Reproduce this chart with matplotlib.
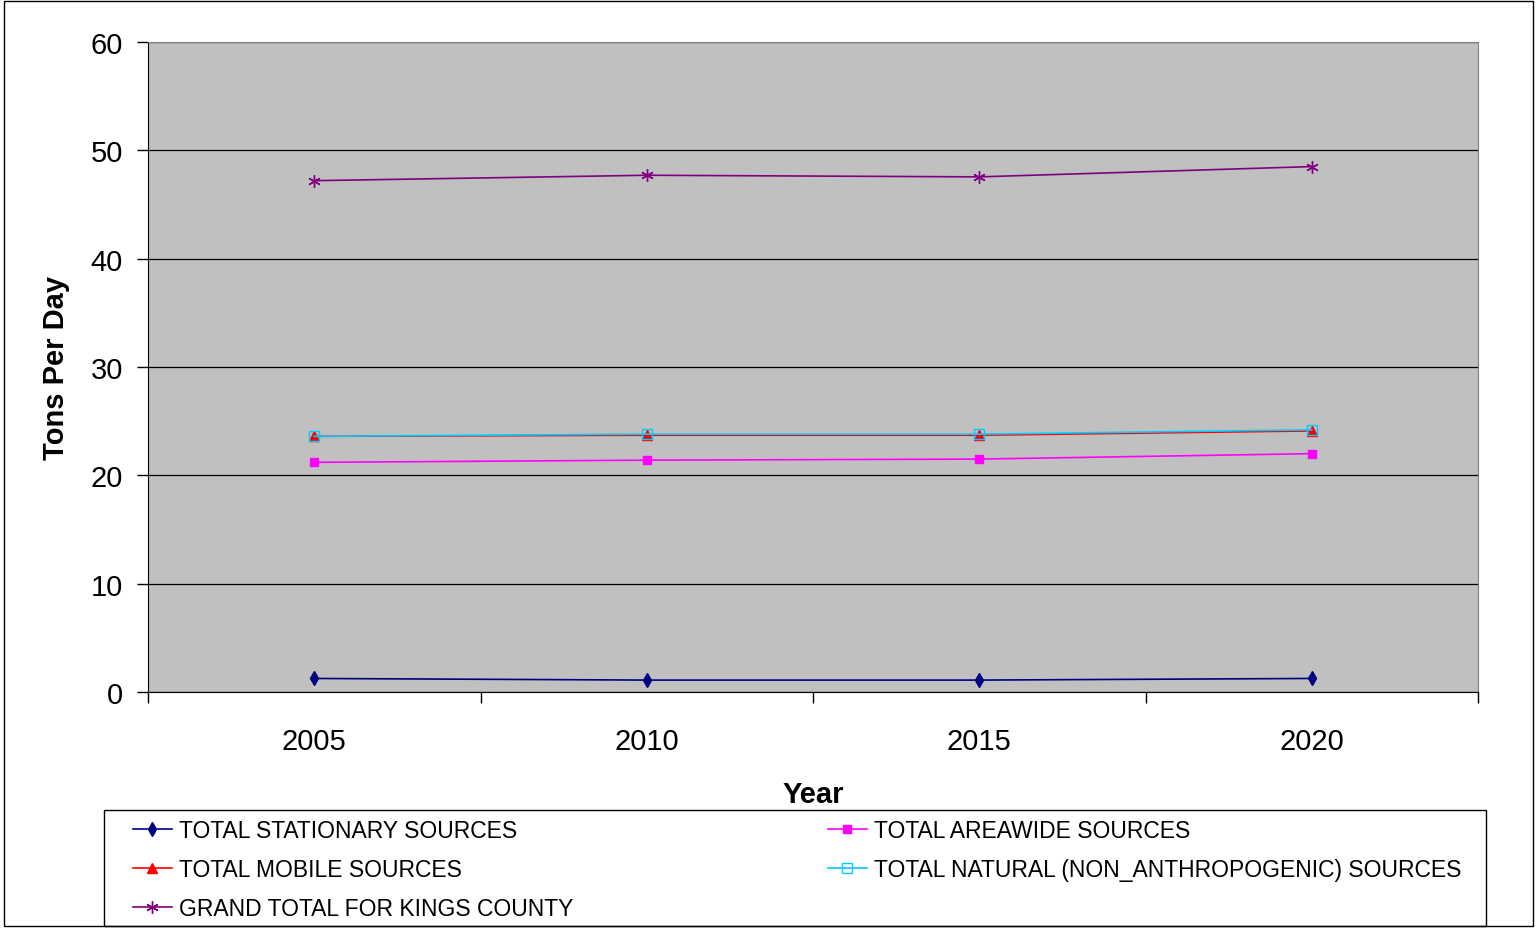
import matplotlib.pyplot as plt
from matplotlib.patches import Rectangle

plt.rcParams['font.family'] = ['Liberation Sans', 'DejaVu Sans']

years = ["2005", "2010", "2015", "2020"]
stationary = [1.25, 1.1, 1.1, 1.25]
areawide = [21.2, 21.4, 21.5, 22.0]
mobile = [23.6, 23.7, 23.7, 24.1]
natural = [23.6, 23.8, 23.8, 24.2]
grand_total = [47.2, 47.7, 47.55, 48.5]

labels = ["TOTAL STATIONARY SOURCES", "TOTAL AREAWIDE SOURCES", "TOTAL MOBILE SOURCES",
          "TOTAL NATURAL (NON_ANTHROPOGENIC) SOURCES", "GRAND TOTAL FOR KINGS COUNTY"]

W, H = 1536, 929
fig = plt.figure(figsize=(W / 100, H / 100), dpi=100)
ax = fig.add_axes([148 / W, 1 - 693 / H, (1478 - 148) / W, (693 - 43) / H])
ax.set_facecolor("#C0C0C0")

x = list(range(len(years)))
lw = 1.2
l_stat, = ax.plot(x, stationary, color="#000080", lw=lw, marker="d", ms=7,
                  mfc="#000080", mec="#000080", zorder=3)
l_area, = ax.plot(x, areawide, color="#FF00FF", lw=lw, marker="s", ms=6,
                  mfc="#FF00FF", mec="#FF00FF", zorder=3)
l_mob, = ax.plot(x, mobile, color="#FF0000", lw=lw, marker="^", ms=7,
                 mfc="#FF0000", mec="#FF0000", zorder=3)
l_nat, = ax.plot(x, natural, color="#00CCFF", lw=lw, marker="s", ms=7,
                 mfc="none", mec="#00CCFF", mew=1.0, zorder=3)
l_tot, = ax.plot(x, grand_total, color="#800080", lw=lw, marker=(6, 2, 0), ms=9,
                 mec="#800080", mew=1.0, zorder=3)

ax.set_ylim(0, 60)
ax.set_yticks(range(0, 61, 10))
ax.set_xlim(-0.5, len(years) - 0.5)
ax.set_xticks([i - 0.5 for i in range(len(years) + 1)])
ax.set_xticklabels([])
ax.set_xticks(x, minor=True)
ax.set_xticklabels(years, minor=True)
ax.tick_params(axis="x", which="minor", length=0, pad=25, labelsize=21)
ax.tick_params(axis="x", which="major", length=8, width=1, color="#000000", direction="out")
ax.tick_params(axis="y", length=8, width=1, labelsize=21, pad=10, direction="out")
ax.grid(axis="y", color="black", lw=0.9)
ax.set_axisbelow(True)

for side in ("top", "right"):
    ax.spines[side].set_color("#808080")
ax.spines["left"].set_color("black")
ax.spines["bottom"].set_color("black")

ax.set_ylabel("Tons Per Day", fontsize=21, fontweight="bold", labelpad=15)
ax.set_xlabel("Year", fontsize=21, fontweight="bold", labelpad=18.5)

# legend entries without frame; the box is drawn separately
leg = fig.legend([l_stat, l_mob, l_tot, l_area, l_nat],
                 [labels[0], labels[2], labels[4], labels[1], labels[3]],
                 ncol=2, mode="expand", loc="upper left",
                 bbox_to_anchor=(133 / W, 1 - 829 / H, (1461 - 133) / W, 0.01),
                 fontsize=16.5, frameon=False,
                 handlelength=1.7, handletextpad=0.3, labelspacing=0.70,
                 borderpad=0, borderaxespad=0)

fig.patches.append(Rectangle((104 / W, 1 - 927 / H), (1486 - 104) / W, (927 - 811) / H,
                             transform=fig.transFigure, fill=False,
                             edgecolor="black", lw=1.0))
fig.patches.append(Rectangle((4 / W, 2 / H), (1533 - 4) / W, (927 - 2) / H,
                             transform=fig.transFigure, fill=False,
                             edgecolor="black", lw=1.0))

fig.savefig("out.png", dpi=100)
